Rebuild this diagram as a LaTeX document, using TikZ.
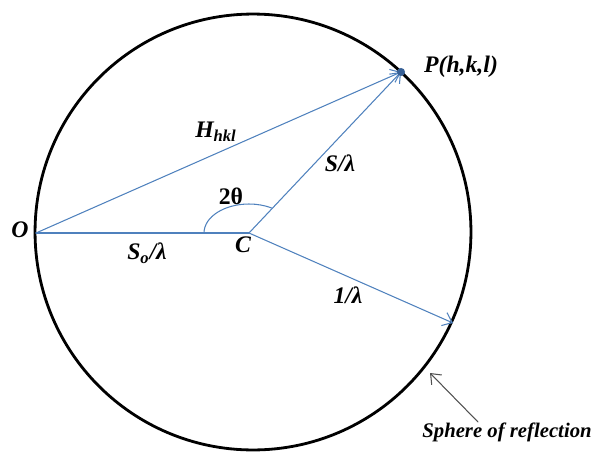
\documentclass[tikz,border=0pt]{standalone}
\usepackage{fontspec}
\setmainfont{Liberation Serif}
\usetikzlibrary{arrows.meta}
\definecolor{lineblue}{RGB}{79,129,189}
\definecolor{dotblue}{RGB}{55,96,150}
\definecolor{pointgray}{RGB}{80,80,80}
\tikzset{
	vec/.style={lineblue,line width=.6pt},
	lab/.style={font=\fontsize{13.5}{15}\selectfont\bfseries\itshape}
}
\begin{document}
\begin{tikzpicture}[x=.02cm,y=-.02cm,line join=round,line cap=round,>={Straight Barb[length=5pt,width=8pt]}]
			\useasboundingbox (0,0) rectangle (591,453);
			\foreach \n/\x/\y in {O/36/233,C/249/233,P/401/72,R/453/323,Z/253/232,A/478/422,B/430/373}\coordinate(\n) at (\x,\y);
			\draw[line width=1.6pt] (Z) circle (4.36cm);
			\draw[vec] (O)--(C);
			\draw[vec,->] (O)--(P);
			\draw[vec,->] (C)--(P);
			\draw[vec,->] (C)--(R);
			\draw[vec] (C) ++(180:.9cm and .58cm) arc[start angle=180,end angle=60,x radius=.9cm,y radius=.58cm];
			\fill[dotblue] (P) circle (2.3pt);
			\draw[pointgray,line width=.6pt,->] (A)--(B);
			\path[lab]
			(20,230) node(o){O}
			(243,245) node(c){C}
			(461,67) node(p){P(h,k,l)}
			(216,132) node(h){H\textsubscript{hkl}}
			(340,163) node(s){S/λ}
			(147,253) node(so){S\textsubscript{o}/λ}
			(348,295) node(r){1/λ}
			(231,196) node(t){\upshape 2θ};
			\node[font=\fontsize{11.8}{13}\selectfont\bfseries\itshape] (sph) at (507,432) {Sphere of reflection};
		\end{tikzpicture}
\end{document}
